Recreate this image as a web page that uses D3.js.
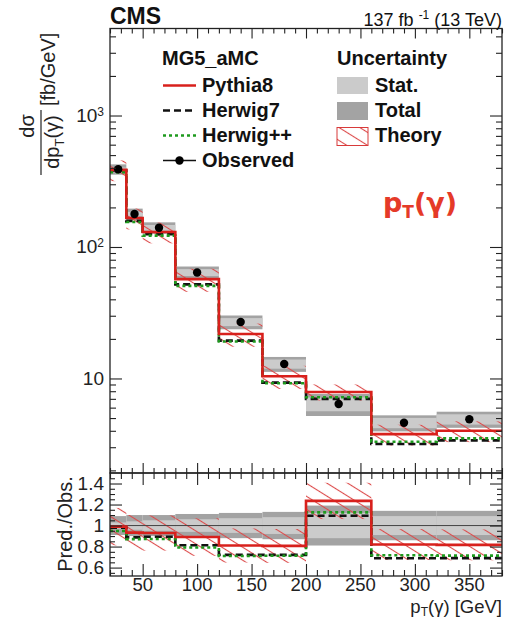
<!DOCTYPE html>
<html><head><meta charset="utf-8">
<script src="https://cdn.jsdelivr.net/npm/d3@7"></script>
<style>body{margin:0;background:#fff} svg{display:block}</style>
</head><body>
<svg id="chart" width="517" height="620"></svg>
<script>
// Photon pT differential cross section, 9 bins (GeV)
const binEdges = [20, 35, 50, 80, 120, 160, 200, 260, 320, 380];
const observed = [390, 178, 140, 64, 26.9, 12.9, 6.4, 4.6, 4.9];          // fb/GeV
const pythia8  = [386, 166, 130, 57, 21.8, 10.4, 7.9, 3.77, 4.0];
const herwig7  = [382, 158, 125, 52, 19.4, 9.3, 7.0, 3.17, 3.38];
const herwigpp = [370, 155, 122, 50.6, 19.1, 9.2, 7.2, 3.3, 3.5];
// relative uncertainties
const statRel   = [0.03, 0.04, 0.05, 0.06, 0.07, 0.08, 0.12, 0.09, 0.09];
const totalRel  = [0.09, 0.10, 0.10, 0.11, 0.12, 0.13, 0.19, 0.14, 0.14];
const theoryRel = [0.18, 0.18, 0.18, 0.20, 0.20, 0.20, 0.14, 0.18, 0.18];
// axis ticks
const xMajor = [50, 100, 150, 200, 250, 300, 350];
const yMajor = [10, 100, 1000];
const yMajorLabels = [["10", ""], ["10", "2"], ["10", "3"]];
const rMajor = [0.6, 0.8, 1.0, 1.2, 1.4];
const rMajorLabels = ["0.6", "0.8", "1", "1.2", "1.4"];

const FONT = "'Liberation Sans', Arial, Helvetica, sans-serif";
const RED = "#d8201c", GREEN = "#1e9a1e", STATC = "#cbcbcb", TOTC = "#a3a3a3";

const svg = d3.select("#chart").attr("font-family", FONT);
const L = 110, R = 502, mainTop = 28.5, mainBot = 473, ratTop = 473, ratBot = 576;

const x  = d3.scaleLinear().domain([20, 380]).range([L, R]);
const y  = d3.scaleLog().domain([1.91, 4590]).range([mainBot, mainTop]);
const yr = d3.scaleLinear().domain([0.52, 1.5]).range([ratBot, ratTop]);

const bins = observed.map((o, i) => ({
  x0: binEdges[i], x1: binEdges[i + 1], obs: o,
  p8: pythia8[i], h7: herwig7[i], hpp: herwigpp[i],
  stat: statRel[i], tot: totalRel[i], th: theoryRel[i]
}));

const defs = svg.append("defs");
const pat = defs.append("pattern").attr("id", "hatch")
  .attr("patternUnits", "userSpaceOnUse").attr("width", 12).attr("height", 11)
  .attr("patternTransform", "rotate(32)");
pat.append("line").attr("x1", 0).attr("x2", 12).attr("y1", 5.5).attr("y2", 5.5)
  .attr("stroke", "#dc4a4a").attr("stroke-width", 1.1);
defs.append("clipPath").attr("id", "clipMain").append("rect")
  .attr("x", L).attr("y", mainTop).attr("width", R - L).attr("height", mainBot - mainTop);
defs.append("clipPath").attr("id", "clipRat").append("rect")
  .attr("x", L).attr("y", ratTop).attr("width", R - L).attr("height", ratBot - ratTop);

const stepLine = (yScale, acc) => d3.line().x(d => x(d[0])).y(d => yScale(d[1]))(
  bins.flatMap(b => [[b.x0, acc(b)], [b.x1, acc(b)]]));

const series = [
  { key: "p8",  color: RED,   dash: null,  width: 2.6 },
  { key: "h7",  color: "#111", dash: "7,4", width: 2.6 },
  { key: "hpp", color: GREEN, dash: "3,3", width: 2.6 }
];
const drawOrder = ["h7", "hpp", "p8"];

// ---------- main panel ----------
const gm = svg.append("g").attr("clip-path", "url(#clipMain)");
gm.selectAll("rect.tot").data(bins).join("rect")
  .attr("x", b => x(b.x0)).attr("width", b => x(b.x1) - x(b.x0))
  .attr("y", b => y(b.obs * (1 + b.tot))).attr("height", b => y(b.obs * (1 - b.tot)) - y(b.obs * (1 + b.tot)))
  .attr("fill", TOTC);
gm.selectAll("rect.stat").data(bins).join("rect")
  .attr("x", b => x(b.x0)).attr("width", b => x(b.x1) - x(b.x0))
  .attr("y", b => y(b.obs * (1 + b.stat))).attr("height", b => y(b.obs * (1 - b.stat)) - y(b.obs * (1 + b.stat)))
  .attr("fill", STATC);
gm.selectAll("rect.th").data(bins).join("rect")
  .attr("x", b => x(b.x0)).attr("width", b => x(b.x1) - x(b.x0))
  .attr("y", b => y(b.p8 * (1 + b.th))).attr("height", b => y(b.p8 * (1 - b.th)) - y(b.p8 * (1 + b.th)))
  .attr("fill", "url(#hatch)");
drawOrder.forEach(k => {
  const s = series.find(d => d.key === k);
  gm.append("path").attr("d", stepLine(y, b => b[k])).attr("fill", "none")
    .attr("stroke", s.color).attr("stroke-width", s.width)
    .attr("stroke-dasharray", s.dash);
});
gm.selectAll("circle").data(bins).join("circle")
  .attr("cx", b => x((b.x0 + b.x1) / 2)).attr("cy", b => y(b.obs)).attr("r", 4.2).attr("fill", "#000");

// ---------- ratio panel ----------
const gr = svg.append("g").attr("clip-path", "url(#clipRat)");
gr.selectAll("rect.tot").data(bins).join("rect")
  .attr("x", b => x(b.x0)).attr("width", b => x(b.x1) - x(b.x0))
  .attr("y", b => yr(1 + b.tot)).attr("height", b => yr(1 - b.tot) - yr(1 + b.tot))
  .attr("fill", TOTC);
gr.selectAll("rect.stat").data(bins).join("rect")
  .attr("x", b => x(b.x0)).attr("width", b => x(b.x1) - x(b.x0))
  .attr("y", b => yr(1 + b.stat)).attr("height", b => yr(1 - b.stat) - yr(1 + b.stat))
  .attr("fill", STATC);
gr.selectAll("rect.th").data(bins).join("rect")
  .attr("x", b => x(b.x0)).attr("width", b => x(b.x1) - x(b.x0))
  .attr("y", b => yr(b.p8 / b.obs * (1 + b.th))).attr("height", b => yr(b.p8 / b.obs * (1 - b.th)) - yr(b.p8 / b.obs * (1 + b.th)))
  .attr("fill", "url(#hatch)");
gr.append("line").attr("x1", L).attr("x2", R).attr("y1", yr(1)).attr("y2", yr(1))
  .attr("stroke", "#444").attr("stroke-width", 1);
drawOrder.forEach(k => {
  const s = series.find(d => d.key === k);
  gr.append("path").attr("d", stepLine(yr, b => b[k] / b.obs)).attr("fill", "none")
    .attr("stroke", s.color).attr("stroke-width", s.width)
    .attr("stroke-dasharray", s.dash);
});

// ---------- axes / ticks ----------
const xMinor = d3.range(20, 381, 10).filter(v => !xMajor.includes(v));
const yMinor = [1, 10, 100, 1000].flatMap(d => d3.range(2, 10).map(m => m * d))
  .filter(v => v > 1.91 && v < 4590);
const rMinor = d3.range(0.55, 1.5, 0.05).map(v => +v.toFixed(2))
  .filter(v => !rMajor.some(m => Math.abs(m - v) < 1e-6));

function ticks(axisFn, scale, values, size, tx, ty) {
  const g = svg.append("g").attr("transform", `translate(${tx},${ty})`)
    .call(axisFn(scale).tickValues(values).tickSize(-size).tickFormat(""));
  g.select(".domain").remove();
  g.selectAll("line").attr("stroke", "#222").attr("stroke-width", 1.1);
}
// main panel
ticks(d3.axisTop, x, xMajor, 10, 0, mainTop);
ticks(d3.axisTop, x, xMinor, 5, 0, mainTop);
ticks(d3.axisBottom, x, xMajor, 10, 0, mainBot);
ticks(d3.axisBottom, x, xMinor, 5, 0, mainBot);
ticks(d3.axisLeft, y, yMajor, 12, L, 0);
ticks(d3.axisLeft, y, yMinor, 6, L, 0);
ticks(d3.axisRight, y, yMajor, 12, R, 0);
ticks(d3.axisRight, y, yMinor, 6, R, 0);
// ratio panel
ticks(d3.axisTop, x, xMajor, 12, 0, ratTop);
ticks(d3.axisTop, x, xMinor, 6, 0, ratTop);
ticks(d3.axisBottom, x, xMajor, 12, 0, ratBot);
ticks(d3.axisBottom, x, xMinor, 6, 0, ratBot);
ticks(d3.axisLeft, yr, rMajor, 12, L, 0);
ticks(d3.axisLeft, yr, rMinor, 5, L, 0);
ticks(d3.axisRight, yr, rMajor, 12, R, 0);
ticks(d3.axisRight, yr, rMinor, 5, R, 0);

// frames
svg.append("rect").attr("x", L).attr("y", mainTop).attr("width", R - L).attr("height", mainBot - mainTop)
  .attr("fill", "none").attr("stroke", "#222").attr("stroke-width", 1.3);
svg.append("rect").attr("x", L).attr("y", ratTop).attr("width", R - L).attr("height", ratBot - ratTop)
  .attr("fill", "none").attr("stroke", "#222").attr("stroke-width", 1.3);

// tick labels
yMajor.forEach((v, i) => {
  const t = svg.append("text").attr("x", 104).attr("y", y(v) + 6.5).attr("text-anchor", "end")
    .attr("font-size", 19).attr("fill", "#222");
  t.append("tspan").text(yMajorLabels[i][0]);
  if (yMajorLabels[i][1]) t.append("tspan").attr("dy", -6.5).attr("font-size", 12).text(yMajorLabels[i][1]);
});
rMajor.forEach((v, i) => {
  svg.append("text").attr("x", 104).attr("y", yr(v) + 6.5).attr("text-anchor", "end")
    .attr("font-size", 19).attr("fill", "#222").text(rMajorLabels[i]);
});
xMajor.forEach(v => {
  svg.append("text").attr("x", x(v)).attr("y", 590.5).attr("text-anchor", "middle")
    .attr("font-size", 18.5).attr("fill", "#222").text(v);
});

// axis titles
const xt = svg.append("text").attr("x", 502).attr("y", 612.5).attr("text-anchor", "end")
  .attr("font-size", 18.5).attr("fill", "#222");
xt.append("tspan").text("p");
xt.append("tspan").attr("dy", 3).attr("font-size", 12).text("T");
xt.append("tspan").attr("dy", -3).text("(γ) [GeV]");

svg.append("text").attr("transform", "translate(72,524) rotate(-90)").attr("text-anchor", "middle")
  .attr("font-size", 20).attr("fill", "#222").text("Pred./Obs.");

svg.append("text").attr("transform", "translate(34,126) rotate(-90)").attr("text-anchor", "middle")
  .attr("font-size", 20).attr("fill", "#222").text("dσ");
svg.append("line").attr("x1", 41).attr("x2", 41).attr("y1", 110).attr("y2", 175)
  .attr("stroke", "#222").attr("stroke-width", 1.2);
const den = svg.append("text").attr("transform", "translate(59,142) rotate(-90)").attr("text-anchor", "middle")
  .attr("font-size", 20).attr("fill", "#222");
den.append("tspan").text("dp");
den.append("tspan").attr("dy", 5).attr("font-size", 13).text("T");
den.append("tspan").attr("dy", -5).text("(γ)");
svg.append("text").attr("transform", "translate(55,106) rotate(-90)").attr("text-anchor", "start")
  .attr("font-size", 20).attr("fill", "#222").text("[fb/GeV]");

// header
svg.append("text").attr("x", 110).attr("y", 24).attr("font-size", 23).attr("font-weight", "bold")
  .attr("fill", "#111").text("CMS");
const lumi = svg.append("text").attr("x", 502).attr("y", 26).attr("text-anchor", "end")
  .attr("font-size", 18).attr("fill", "#111");
lumi.append("tspan").text("137 fb ");
lumi.append("tspan").attr("dy", -7).attr("font-size", 12).text("-1");
lumi.append("tspan").attr("dy", 7).text(" (13 TeV)");

// legend
const lg = svg.append("g").attr("font-size", 20).attr("font-weight", "bold").attr("fill", "#111");
lg.append("text").attr("x", 162).attr("y", 65).text("MG5_aMC");
lg.append("text").attr("x", 337).attr("y", 65).text("Uncertainty");
const legRows = [
  { label: "Pythia8", y: 91.5, key: "p8" },
  { label: "Herwig7", y: 116.5, key: "h7" },
  { label: "Herwig++", y: 141.5, key: "hpp" }
];
legRows.forEach(r => {
  const s = series.find(d => d.key === r.key);
  lg.append("line").attr("x1", 163).attr("x2", 196).attr("y1", r.y - 6).attr("y2", r.y - 6)
    .attr("stroke", s.color).attr("stroke-width", s.width).attr("stroke-dasharray", s.dash);
  lg.append("text").attr("x", 202).attr("y", r.y).text(r.label);
});
lg.append("line").attr("x1", 163).attr("x2", 196).attr("y1", 160.5).attr("y2", 160.5)
  .attr("stroke", "#111").attr("stroke-width", 1.3);
lg.append("circle").attr("cx", 179.5).attr("cy", 160.5).attr("r", 4.2).attr("fill", "#000");
lg.append("text").attr("x", 202).attr("y", 166.5).text("Observed");

lg.append("rect").attr("x", 337).attr("y", 77).attr("width", 31).attr("height", 17).attr("fill", STATC);
lg.append("text").attr("x", 375).attr("y", 91.5).text("Stat.");
lg.append("rect").attr("x", 337).attr("y", 102).attr("width", 31).attr("height", 18).attr("fill", TOTC);
lg.append("text").attr("x", 375).attr("y", 116.5).text("Total");
lg.append("rect").attr("x", 337).attr("y", 127.5).attr("width", 31).attr("height", 18)
  .attr("fill", "url(#hatch)").attr("stroke", "#d83a3a").attr("stroke-width", 1);
lg.append("text").attr("x", 375).attr("y", 141.5).text("Theory");

// observable tag
const tag = svg.append("text").attr("x", 383).attr("y", 212).attr("font-size", 27)
  .attr("font-family", "'DejaVu Sans', sans-serif")
  .attr("font-weight", "bold").attr("fill", "#e53a28");
tag.append("tspan").text("p");
tag.append("tspan").attr("dy", 6).attr("font-size", 17).text("T");
tag.append("tspan").attr("dy", -6).text("(γ)");
</script>
</body></html>
